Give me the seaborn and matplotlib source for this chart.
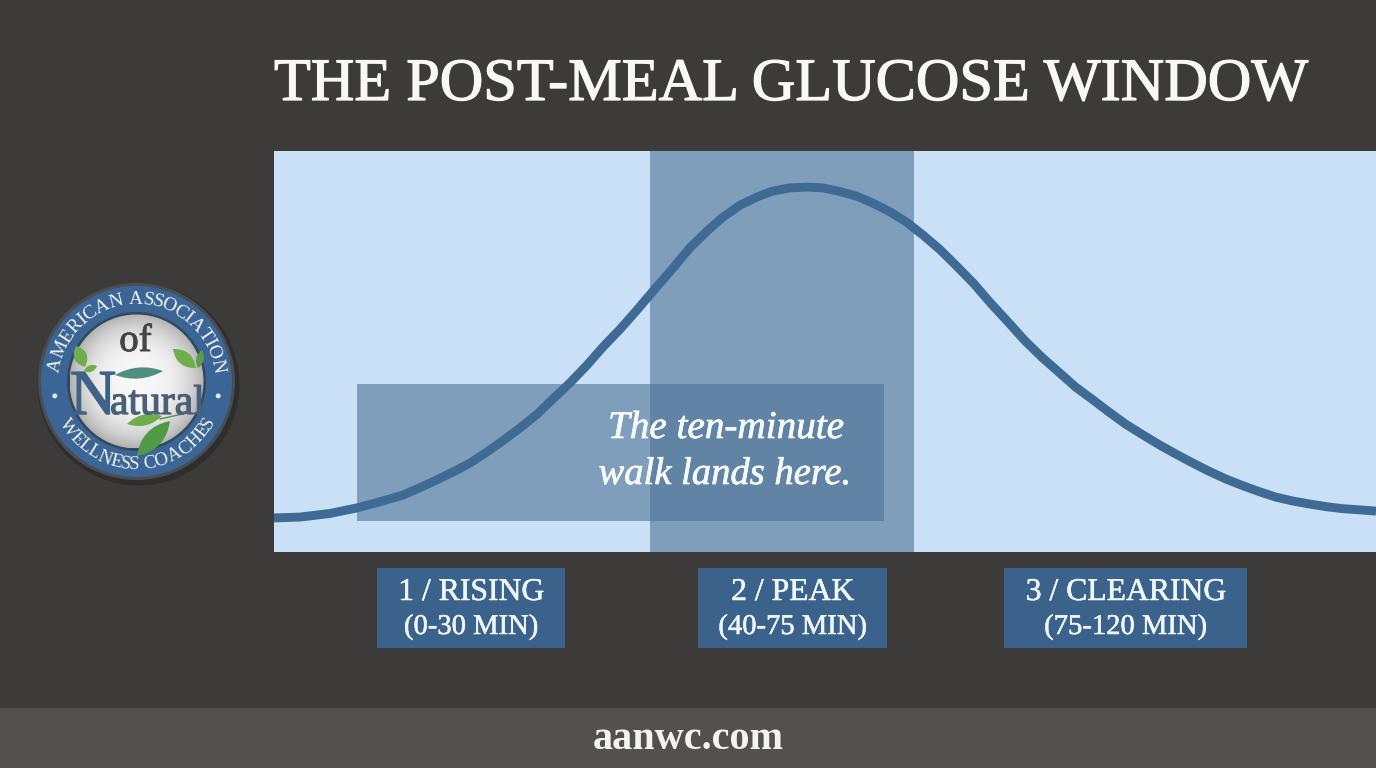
import numpy as np
import matplotlib
matplotlib.use("Agg")
import matplotlib.pyplot as plt
import matplotlib.patheffects as pe
import seaborn as sns
from matplotlib.patches import Circle, PathPatch, Rectangle
from matplotlib.path import Path
from matplotlib.textpath import TextPath
from matplotlib.font_manager import FontProperties

title = "THE POST-MEAL GLUCOSE WINDOW"
minutes = [-9.8, -6.4, -2.4, 1.2, 4.2, 7.3, 9.5, 11.8, 14.2, 16.2, 18.4, 20.5, 22.8,
           25.1, 27.2, 29.4, 31.7, 33.8, 36.1, 38.3, 40.7, 43.1, 45.3, 47.6, 49.7,
           52.0, 54.2, 56.3, 58.6, 60.9, 63.0, 65.2, 67.5, 69.6, 71.9, 74.1, 76.2,
           78.5, 80.7, 82.9, 85.1, 87.4, 89.8, 92.1, 94.4, 96.5, 98.8, 100.9, 103.1,
           105.4, 107.6, 109.8, 112.0, 114.1, 116.4, 118.7, 120.9, 123.0, 125.3,
           127.4, 129.7, 131.9, 134.2, 136.3]
glucose = [8.5, 8.7, 9.6, 11.0, 12.5, 14.2, 16.0, 18.0, 20.2, 22.2, 24.9, 27.7, 30.9,
           34.4, 38.2, 42.1, 46.6, 51.1, 55.6, 60.3, 65.6, 70.8, 75.8, 80.0, 83.5,
           86.5, 88.5, 90.0, 90.8, 91.0, 90.8, 89.9, 88.7, 87.0, 84.8, 82.2, 79.1,
           75.4, 71.3, 67.1, 62.3, 57.6, 52.6, 48.4, 44.6, 41.1, 37.9, 34.9, 31.9,
           29.2, 26.7, 24.4, 22.2, 20.2, 18.2, 16.5, 15.0, 13.7, 12.7, 12.0,
           11.3, 10.8, 10.5, 10.2]
peak_band = [40, 75]
callout_x = [1.2, 71.1]
callout_y = [7.7, 41.9]
callout_lines = ["The ten-minute", "walk lands here."]
phase_top = ["1 / RISING", "2 / PEAK", "3 / CLEARING"]
phase_bottom = ["(0-30 MIN)", "(40-75 MIN)", "(75-120 MIN)"]
footer = "aanwc.com"

DARK = "#3c3b3a"
PANEL = "#c9e0f6"
BLUE = "#3f6a94"
BOX = "#3a628a"
SERIF = "Liberation Serif"

sns.set_theme(style="white")
plt.rcParams["font.family"] = [SERIF, "DejaVu Serif"]


def heavy(width, color):
    return [pe.withStroke(linewidth=width, foreground=color)]


fig = plt.figure(figsize=(13.76, 7.68), dpi=100, facecolor=DARK)

# pixel overlay for everything around the chart
px = fig.add_axes([0, 0, 1, 1], zorder=1)
px.set_xlim(0, 1376)
px.set_ylim(768, 0)
px.axis("off")

# main chart
ax = fig.add_axes([274 / 1376, 1 - 552 / 768, 1102 / 1376, 401 / 768], zorder=2)
ax.set_facecolor(PANEL)
ax.axvspan(peak_band[0], peak_band[1], color="#4e7396", alpha=0.6, lw=0, zorder=1)
ax.fill_between(callout_x, callout_y[0], callout_y[1], color="#4e7396", alpha=0.6, lw=0, zorder=2)
sns.lineplot(x=minutes, y=glucose, ax=ax, color=BLUE, linewidth=6.4, sort=False,
             errorbar=None, solid_capstyle="butt", solid_joinstyle="round", zorder=3)
ax.set_xlim(-9.8, 136.3)
ax.set_ylim(0, 100)
ax.set_xticks([])
ax.set_yticks([])
ax.set_xlabel("")
ax.set_ylabel("")
sns.despine(ax=ax, left=True, bottom=True)

top = fig.add_axes([0, 0, 1, 1], zorder=3)
top.set_xlim(0, 1376)
top.set_ylim(768, 0)
top.axis("off")

# title, callout text, footer
top.text(274, 100, title, fontsize=43.4, color="#f8f8f5", ha="left", va="baseline",
         path_effects=heavy(0.9, "#f8f8f5"))
top.text(726, 438, callout_lines[0], fontsize=28.2, style="italic", color="#f7fafc",
         ha="center", va="baseline", path_effects=heavy(0.5, "#f7fafc"))
top.text(725, 484, callout_lines[1], fontsize=27.8, style="italic", color="#f7fafc",
         ha="center", va="baseline", path_effects=heavy(0.5, "#f7fafc"))
px.add_patch(Rectangle((0, 708), 1376, 60, color="#52514f", lw=0))
top.text(688, 749, footer, fontsize=29, weight="bold", color="#f4f4ef", ha="center", va="baseline")

# phase boxes
box_left = [377, 698, 1004]
box_right = [565, 887, 1247]
for left, right, line1, line2 in zip(box_left, box_right, phase_top, phase_bottom):
    px.add_patch(Rectangle((left, 568), right - left, 80, color=BOX, lw=0))
    mid = (left + right) / 2
    top.text(mid, 600, line1, fontsize=22.8, color="#eef6fb", ha="center", va="baseline",
             path_effects=heavy(0.4, "#eef6fb"))
    top.text(mid, 634, line2, fontsize=20.6, color="#eef6fb", ha="center", va="baseline",
             path_effects=heavy(0.4, "#eef6fb"))

# logo
cx, cy = 136.5, 381.5
px.add_patch(Circle((cx + 2, cy + 3), 101, color="#2f2e2e", lw=0))
px.add_patch(Circle((cx, cy), 98.5, color="#4a4d52", lw=0))
px.add_patch(Circle((cx, cy), 95.5, color="#3a6595", lw=0))
px.add_patch(Circle((cx, cy), 69.5, color="#33485f", lw=0))

yy, xx = np.mgrid[-1:1:160j, -1:1:160j]
shade = np.clip(0.97 - 0.27 * (xx**2 + yy**2) ** 1.5, 0, 1)
img = px.imshow(shade, extent=(cx - 67, cx + 67, cy + 67, cy - 67), cmap="gray",
                vmin=0, vmax=1, aspect="auto", zorder=3)
img.set_clip_path(Circle((cx, cy), 67, transform=px.transData))
px.set_xlim(0, 1376)
px.set_ylim(768, 0)


def leaf(base, tip, width, color, z=4):
    bx, by = base
    tx, ty = tip
    nx, ny = -(ty - by), tx - bx
    n = np.hypot(nx, ny)
    nx, ny = nx / n * width, ny / n * width
    mx, my = (bx + tx) / 2, (by + ty) / 2
    verts = [base, (mx + nx, my + ny), tip, (mx - nx, my - ny), base]
    codes = [Path.MOVETO, Path.CURVE3, Path.CURVE3, Path.CURVE3, Path.CURVE3]
    px.add_patch(PathPatch(Path(verts, codes), facecolor=color, lw=0, zorder=z))


leaf((85, 367), (76, 346), 13, "#6fae4a")
leaf((84, 371), (97, 366), 7, "#6fae4a")
leaf((196, 368), (173, 349), 13, "#6fae4a")
leaf((198, 368), (202, 350), 8, "#5c9c48")
leaf((115, 375), (163, 371), 11, "#4f8f80")
leaf((127, 424), (162, 416), 11, "#6fae4a")
leaf((137, 456), (170, 421), 17, "#4f9a45")
px.plot([160, 187], [419, 413], color="#4f8f60", lw=1, zorder=4)

top.text(cx - 1, 351, "of", fontsize=28, color="#454545", ha="center", va="baseline",
         path_effects=heavy(0.7, "#454545"))
top.text(70, 414, "N", fontsize=46, color="#3f6288", ha="left", va="baseline",
         path_effects=heavy(1.1, "#3f6288"))
top.text(110, 414, "atural", fontsize=30, color="#4a5f78", ha="left", va="baseline",
         path_effects=heavy(0.9, "#4a5f78"))


def arc_text(s, radius, start, end, size, bottom=False):
    # letters spaced by their own widths between two angles on the ring
    fp = FontProperties(family=SERIF, size=size)
    widths = [TextPath((0, 0), ch if ch != " " else "n", prop=fp).get_extents().width * 1.15
              for ch in s]
    widths = [w * (0.55 if ch == " " else 1) for w, ch in zip(widths, s)]
    edges = np.cumsum([0] + widths)
    mids = (edges[:-1] + edges[1:]) / 2 / edges[-1]
    for ch, m in zip(s, mids):
        ang = start + (end - start) * m
        x = cx + radius * np.cos(np.radians(ang))
        y = cy - radius * np.sin(np.radians(ang))
        rot = ang + 90 if bottom else ang - 90
        top.text(x, y, ch, fontsize=size, color="#eef2f5", rotation=rot,
                 rotation_mode="anchor", ha="center", va="center")


arc_text("AMERICAN ASSOCIATION", 82, 174, 6, 14)
arc_text("WELLNESS COACHES", 83, 207, 333, 13.5, bottom=True)
for ang in (190, 350):
    top.add_patch(Circle((cx + 83 * np.cos(np.radians(ang)), cy - 83 * np.sin(np.radians(ang))),
                         2.5, color="#dfe7ee", lw=0))

fig.savefig("out.png", dpi=100, facecolor=DARK)
